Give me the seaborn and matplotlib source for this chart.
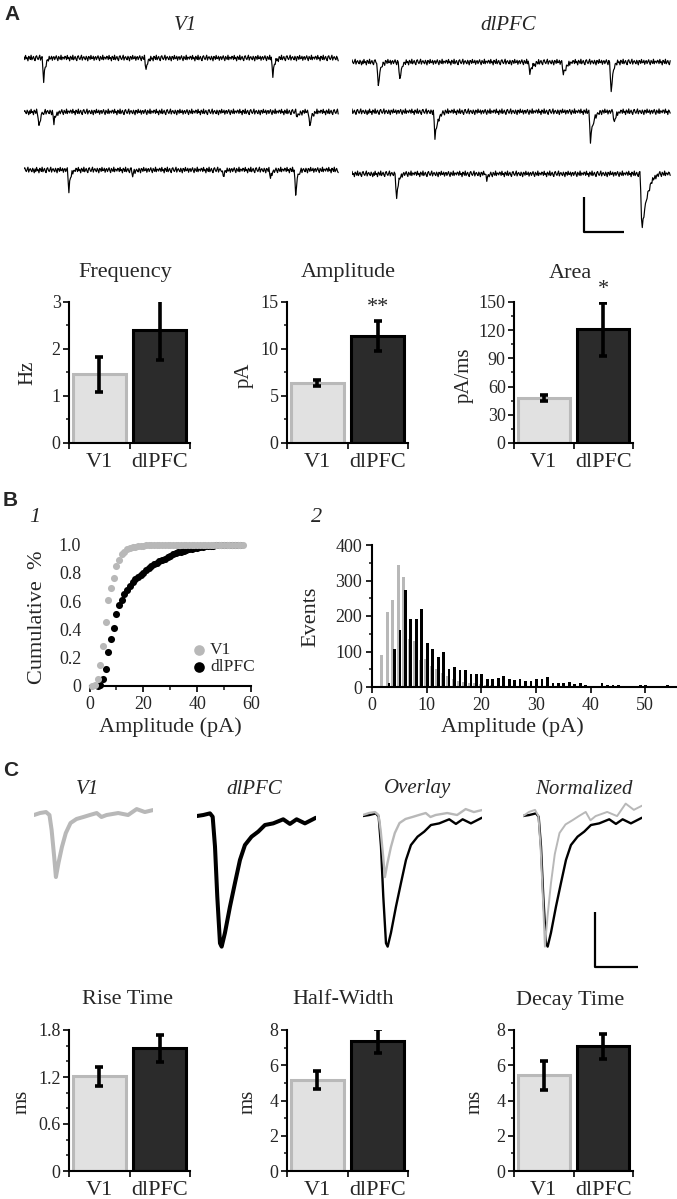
"""Recreate the mEPSC figure (panels A-C) with seaborn/matplotlib."""
import matplotlib
matplotlib.use("Agg")
import matplotlib.pyplot as plt
import numpy as np
import pandas as pd
import seaborn as sns

W, H = 677, 1199

regions = ["V1", "dlPFC"]

# ---- bar data (mean, sem) ----
freq_mean, freq_sem = [1.46, 2.41], [0.38, 0.65]
amp_mean, amp_sem = [6.4, 11.35], [0.32, 1.6]
area_mean, area_sem = [48, 121], [3.5, 28]
rise_mean, rise_sem = [1.21, 1.565], [0.12, 0.17]
half_mean, half_sem = [5.15, 7.38], [0.52, 0.7]
decay_mean, decay_sem = [5.42, 7.08], [0.8, 0.7]

# ---- panel B1: cumulative distributions (amplitude pA, fraction) ----
v1_cdf_amp = list(range(1, 58))
v1_cdf = [0.0, 0.01, 0.05, 0.15, 0.28, 0.45, 0.61, 0.69, 0.76, 0.85,
          0.89, 0.93, 0.95, 0.965, 0.975, 0.98, 0.985, 0.99, 0.99, 0.992,
          0.993, 0.994, 0.995, 0.996, 0.996, 0.997, 0.997, 0.998, 0.998, 0.998,
          0.999, 0.999, 0.999, 0.999, 1.0, 1.0, 1.0, 1.0, 1.0, 1.0,
          1.0, 1.0, 1.0, 1.0, 1.0, 1.0, 1.0, 1.0, 1.0, 1.0,
          1.0, 1.0, 1.0, 1.0, 1.0, 1.0, 1.0]
dl_cdf_amp = list(range(3, 57))
dl_cdf = [0.0, 0.01, 0.05, 0.12, 0.24, 0.33, 0.41, 0.51, 0.57, 0.61,
          0.65, 0.68, 0.71, 0.735, 0.755, 0.77, 0.785, 0.80, 0.82, 0.835,
          0.85, 0.86, 0.87, 0.88, 0.89, 0.90, 0.91, 0.92, 0.93, 0.937,
          0.944, 0.95, 0.955, 0.96, 0.965, 0.97, 0.974, 0.977, 0.98, 0.983,
          0.986, 0.988, 0.99, 0.992, 0.993, 0.994, 0.995, 0.996, 0.997, 0.998,
          0.998, 0.999, 0.999, 1.0]

# ---- panel B2: amplitude histograms (1 pA bins) ----
v1_bins = list(range(2, 31))
v1_counts = [91, 211, 246, 343, 309, 135, 130, 75, 78, 60, 50, 40, 30, 22, 18,
             14, 12, 10, 8, 6, 5, 4, 3, 3, 2, 2, 2, 1, 1]
dl_bins = list(range(3, 56))
dl_counts = [10, 108, 160, 272, 192, 192, 220, 125, 106, 85, 98, 52, 57, 48, 48,
             36, 38, 38, 23, 23, 26, 31, 23, 19, 23, 17, 17, 22, 22, 29,
             12, 12, 12, 14, 9, 12, 7, 3, 3, 12, 5, 5, 5, 3, 3,
             3, 5, 6, 3, 4, 3, 5, 4]

# ---- panel A: raw trace events (time s, amplitude pA, template kind) ----
v1_event_t = [[0.48, 3.07, 6.30], [0.36, 0.74, 6.93, 7.24], [1.12, 2.74, 5.03, 6.25, 6.88]]
v1_event_amp = [[13.0, 7.0, 10.5], [8.6, 6.5, 3.0, 8.6], [11.5, 3.0, 3.4, 4.6, 13.8]]
v1_event_kind = [[0, 0, 0], [0, 0, 0, 0], [0, 0, 0, 0, 0]]
dl_event_t = [[0.65, 1.18, 4.44, 5.29, 6.47], [2.06, 5.97, 6.55], [1.10, 3.36, 7.25]]
dl_event_amp = [[15.0, 11.0, 6.5, 7.5, 18.5], [15.0, 16.5, 6.5], [15.0, 3.0, 31.0]]
dl_event_kind = [[0, 0, 1, 1, 0], [1, 1, 0], [0, 0, 2]]
noise_pA = [0.6, -0.9, 1.5, -0.4, 0.2, -1.6, 1.0, 0.3, -0.8, 1.6, -1.0, 0.0, 0.9,
            -0.6, -1.5, 0.8, 1.3, -0.2, -0.9, 0.3, 1.6, -1.2, 0.2, 0.8, -0.3, -1.0,
            1.0, 0.0, -1.6, 0.9, 0.5, -0.8, 1.5, -0.4, -0.2, 1.0, -1.3, 0.3, 0.8,
            -0.9, 0.2, 1.3, -0.3, -1.5, 0.9, 0.0, -0.8, 1.6, -1.0, 0.5, 0.3, -0.6, 1.0]
event_templates = [
    [0.45, 1.0, 0.62, 0.4, 0.26, 0.17, 0.11, 0.07, 0.04, 0.02],
    [0.4, 1.0, 0.78, 0.6, 0.46, 0.35, 0.27, 0.2, 0.15, 0.11, 0.08, 0.05, 0.03, 0.02],
    [0.3, 0.8, 1.0, 0.88, 0.76, 0.66, 0.57, 0.49, 0.42, 0.36, 0.31, 0.26, 0.22,
     0.18, 0.15, 0.12, 0.1, 0.08, 0.06, 0.05, 0.04, 0.03, 0.02],
]

# ---- panel C: averaged events (time ms, current pA) ----
v1_avg_t = [0, 1.4, 2.8, 3.6, 4.1, 4.7, 5.1, 5.7, 6.5, 7.4, 8.5, 9.9, 11.5,
            13.0, 14.6, 15.7, 16.9, 19.6, 21.9, 23.9, 25.8, 27.7]
v1_avg_pA = [-0.09, 0.09, 0.18, -0.09, -1.45, -3.9, -5.73, -4.45, -3.0, -1.73,
             -0.82, -0.45, -0.27, -0.09, 0.09, -0.27, -0.09, 0.09, -0.09, 0.45, 0.18, 0.36]
dl_avg_t = [0, 1.47, 3.02, 3.65, 4.19, 4.72, 5.35, 5.74, 6.51, 7.67, 8.84, 10.0,
            11.16, 12.7, 14.26, 15.81, 17.74, 20.07, 21.63, 23.19, 25.12, 27.67]
dl_avg_pA = [-0.18, -0.09, 0.06, -0.25, -2.97, -7.5, -11.75, -12.06, -10.8, -8.43,
             -6.27, -4.18, -2.82, -2.06, -1.6, -1.0, -0.85, -0.48, -0.9, -0.48, -0.85, -0.34]

# ---- styling ----
bar_fill = ["#e1e1e1", "#2b2b2b"]
bar_edge = ["#b9b9b9", "#000000"]
GRAY = "#b8b8b8"
SERIF = ["Liberation Serif", "DejaVu Serif"]

sns.set_theme(style="ticks")
plt.rcParams["font.family"] = SERIF
plt.rcParams["axes.linewidth"] = 1.5

fig = plt.figure(figsize=(W / 100, H / 100), dpi=100)


def rect(l, t, r, b):
    return [l / W, 1 - b / H, (r - l) / W, (b - t) / H]


def ftext(x, y, s, **kw):
    kw.setdefault("ha", "center")
    kw.setdefault("va", "center")
    fig.text(x / W, 1 - y / H, s, **kw)


def bar_panel(box, means, sems, ylim, major, minor, ticklabels, stars=None):
    ax = fig.add_axes(rect(*box))
    df = pd.DataFrame({"region": regions, "value": means})
    sns.barplot(data=df, x="region", y="value", hue="region", palette=bar_fill,
                saturation=1, width=0.87, errorbar=None, legend=False,
                linewidth=2.2, ax=ax)
    for patch, ec in zip(ax.patches, bar_edge):
        patch.set_edgecolor(ec)
    ax.errorbar([0, 1], means, yerr=sems, fmt="none", ecolor="black",
                elinewidth=2.6, capsize=3, capthick=2.6, zorder=5)
    if stars:
        ax.annotate(stars, (1, means[1] + sems[1]), xytext=(0, 3),
                    textcoords="offset points", ha="center", va="bottom",
                    fontsize=16)
    ax.set_xlim(-0.5, 1.5)
    ax.set_ylim(*ylim)
    ax.set_xticks([0, 1])
    ax.set_xticklabels(regions, fontfamily=SERIF, fontsize=16)
    ax.set_xticks([-0.5, 0.5, 1.5], minor=True)
    ax.tick_params(axis="x", which="major", length=0, pad=7)
    ax.tick_params(axis="x", which="minor", length=4, width=1.4, direction="out")
    ax.set_yticks(major, ticklabels)
    ax.set_yticks(minor, minor=True)
    ax.tick_params(axis="y", which="major", length=4, width=1.4, pad=2, labelsize=13)
    ax.tick_params(axis="y", which="minor", length=2.5, width=1.2)
    ax.set_xlabel("")
    ax.set_ylabel("")
    sns.despine(ax=ax)
    for side in ("left", "bottom"):
        ax.spines[side].set_color("black")
    return ax


# ================= Panel A: traces =================
dt = 0.02
trace_len = 8.0
n_samp = int(trace_len / dt)
t_axis = np.arange(n_samp) * dt
row_base = [[-10.3, -41.1, -74.3], [-12.6, -41.0, -76.5]]


def build_trace(times, amps, kinds, shift):
    y = np.roll(np.resize(np.array(noise_pA, dtype=float), n_samp), shift)
    for t, a, k in zip(times, amps, kinds):
        i = int(round(t / dt))
        tpl = np.array(event_templates[k])
        j = min(n_samp, i + len(tpl))
        y[i:j] -= a * tpl[: j - i]
    return y


for col, (ev_t, ev_a, ev_k, box) in enumerate([
        (v1_event_t, v1_event_amp, v1_event_kind, (24, 40, 339, 240)),
        (dl_event_t, dl_event_amp, dl_event_kind, (352, 40, 671, 240))]):
    ax = fig.add_axes(rect(*box))
    for r in range(3):
        y = build_trace(ev_t[r], ev_a[r], ev_k[r], 7 * r + 13 * col) + row_base[col][r]
        sns.lineplot(x=t_axis, y=y, ax=ax, color="black", linewidth=0.85,
                     estimator=None, sort=False)
    ax.set_xlim(0, trace_len)
    ax.set_ylim(-114.3, 0)
    ax.axis("off")
    if col == 1:
        # scale bar: 1 s, 20 pA
        ax.plot([5.81, 5.81, 6.81], [-89.7, -109.7, -109.7], color="black",
                linewidth=1.6, solid_capstyle="butt", clip_on=False)

ftext(186, 25, "V1", fontsize=15, style="italic")
ftext(508, 25, "dlPFC", fontsize=15, style="italic")

# ================= Panel A: bars =================
bar_panel((69, 302, 190, 443), freq_mean, freq_sem, (0, 3), [0, 1, 2, 3],
          [0.5, 1.5, 2.5], ["0", "1", "2", "3"])
bar_panel((287, 302, 408, 443), amp_mean, amp_sem, (0, 15), [0, 5, 10, 15],
          [2.5, 7.5, 12.5], ["0", "5", "10", "15"], stars="**")
bar_panel((514, 302, 633, 443), area_mean, area_sem, (0, 150),
          [0, 30, 60, 90, 120, 150], [15, 45, 75, 105, 135],
          ["0", "30", "60", "90", "120", "150"], stars="*")
ftext(125, 273, "Frequency", fontsize=16)
ftext(348, 273, "Amplitude", fontsize=16)
ftext(570, 273, "Area", fontsize=16)
ftext(28, 373, "Hz", fontsize=15, rotation=90)
ftext(244, 375, "pA", fontsize=15, rotation=90)
ftext(464, 375, "pA/ms", fontsize=15, rotation=90)

# ================= Panel B1: cumulative =================
ax = fig.add_axes(rect(89.5, 544.5, 251, 686))
sns.scatterplot(x=dl_cdf_amp, y=dl_cdf, color="black", s=26, linewidth=0,
                ax=ax, clip_on=False, zorder=3, label="dlPFC")
sns.scatterplot(x=v1_cdf_amp, y=v1_cdf, color=GRAY, s=26, linewidth=0,
                ax=ax, clip_on=False, zorder=4, label="V1")
handles, labels = ax.get_legend_handles_labels()
ax.legend([handles[1], handles[0]], [labels[1], labels[0]], loc="upper left",
          bbox_to_anchor=(0.64, 0.31), frameon=False, markerscale=1.5,
          handlelength=0.7, handletextpad=0.3, labelspacing=0.05,
          borderpad=0, borderaxespad=0, fontsize=12.5)
ax.set_xlim(0, 60)
ax.set_ylim(0, 1.0)
ax.set_xticks([0, 20, 40, 60])
ax.set_xticks([10, 30, 50], minor=True)
ax.set_yticks([0, 0.2, 0.4, 0.6, 0.8, 1.0], ["0", "0.2", "0.4", "0.6", "0.8", "1.0"])
ax.tick_params(axis="y", length=0, pad=6, labelsize=13)
ax.tick_params(axis="x", which="major", length=4, width=1.4, pad=3, labelsize=13)
ax.tick_params(axis="x", which="minor", length=3, width=1.2)
ax.set_xlabel("")
ax.set_ylabel("")
sns.despine(ax=ax, left=True)
ax.spines["bottom"].set_color("black")

ftext(37, 617, "Cumulative  %", fontsize=16, rotation=90)
ftext(170, 727, "Amplitude (pA)", fontsize=16)

# ================= Panel B2: histogram =================
ax = fig.add_axes(rect(372, 545, 677, 687))
hist_v1 = pd.DataFrame({"amp": np.array(v1_bins) - 0.2, "n": v1_counts})
hist_dl = pd.DataFrame({"amp": np.array(dl_bins) + 0.1, "n": dl_counts})
sns.histplot(data=hist_v1, x="amp", weights="n", binwidth=1, binrange=(1.3, 31.3),
             shrink=0.5, color=GRAY, alpha=1, linewidth=0, ax=ax)
sns.histplot(data=hist_dl, x="amp", weights="n", binwidth=1, binrange=(2.6, 55.6),
             shrink=0.5, color="black", alpha=1, linewidth=0, ax=ax)
ax.set_xlim(0, 55.8)
ax.set_ylim(0, 400)
ax.set_xticks([0, 10, 20, 30, 40, 50])
ax.set_yticks([0, 100, 200, 300, 400])
ax.set_yticks([50, 150, 250, 350], minor=True)
ax.tick_params(axis="both", which="major", length=4, width=1.4, pad=3, labelsize=13)
ax.tick_params(axis="y", which="minor", length=2.5, width=1.2)
ax.set_xlabel("")
ax.set_ylabel("")
sns.despine(ax=ax)
for side in ("left", "bottom"):
    ax.spines[side].set_color("black")

ftext(311, 617, "Events", fontsize=16, rotation=90)
ftext(512, 727, "Amplitude (pA)", fontsize=16)

# ================= Panel C: averaged events =================
norm_pA = np.array(v1_avg_pA) * (min(dl_avg_pA) / min(v1_avg_pA))
trace_boxes = [(34, 795, 153, 975), (197, 795, 316, 975),
               (363, 795, 482, 975), (523, 795, 642, 975)]
trace_sets = [
    [(v1_avg_t, v1_avg_pA, GRAY, 2.9)],
    [(dl_avg_t, dl_avg_pA, "black", 2.9)],
    [(dl_avg_t, dl_avg_pA, "black", 1.7), (v1_avg_t, v1_avg_pA, GRAY, 1.7)],
    [(dl_avg_t, dl_avg_pA, "black", 1.7), (v1_avg_t, norm_pA, GRAY, 1.4)],
]
for i, (box, traces) in enumerate(zip(trace_boxes, trace_sets)):
    ax = fig.add_axes(rect(*box))
    for tt, yy, c, lw in traces:
        sns.lineplot(x=tt, y=yy, ax=ax, color=c, linewidth=lw, estimator=None, sort=False)
    ax.set_xlim(0, 27.7)
    ax.set_ylim(-14.64, 1.73)
    ax.axis("off")
    if i == 3:
        # scale bar: 10 ms, 5 pA
        ax.plot([16.7, 16.7, 26.7], [-8.9, -13.9, -13.9], color="black",
                linewidth=1.6, solid_capstyle="butt", clip_on=False)

ftext(88, 789, "V1", fontsize=15, style="italic")
ftext(254, 789, "dlPFC", fontsize=15, style="italic")
ftext(418, 789, "Overlay", fontsize=15, style="italic")
ftext(584, 789, "Normalized", fontsize=15, style="italic")

# ================= Panel C: bars =================
bar_panel((69, 1030, 190, 1171), rise_mean, rise_sem, (0, 1.8), [0, 0.6, 1.2, 1.8],
          [0.2, 0.4, 0.8, 1.0, 1.4, 1.6], ["0", "0.6", "1.2", "1.8"])
bar_panel((287, 1030, 408, 1171), half_mean, half_sem, (0, 8), [0, 2, 4, 6, 8],
          [1, 3, 5, 7], ["0", "2", "4", "6", "8"], stars="**")
bar_panel((514, 1030, 633, 1171), decay_mean, decay_sem, (0, 8), [0, 2, 4, 6, 8],
          [1, 3, 5, 7], ["0", "2", "4", "6", "8"])
ftext(127, 1000, "Rise Time", fontsize=16)
ftext(343, 1000, "Half-Width", fontsize=16)
ftext(570, 1000, "Decay Time", fontsize=16)
ftext(22, 1102, "ms", fontsize=15, rotation=90)
ftext(248, 1102, "ms", fontsize=15, rotation=90)
ftext(475, 1102, "ms", fontsize=15, rotation=90)

# ================= panel letters =================
for x, y, s in [(12, 15, "A"), (10, 500, "B"), (11, 770, "C")]:
    ftext(x, y, s, fontsize=15, fontweight="bold", family=["Liberation Sans", "DejaVu Sans"])
ftext(35, 517, "1", fontsize=16, style="italic")
ftext(317, 517, "2", fontsize=16, style="italic")

fig.savefig("out.png", dpi=100)
